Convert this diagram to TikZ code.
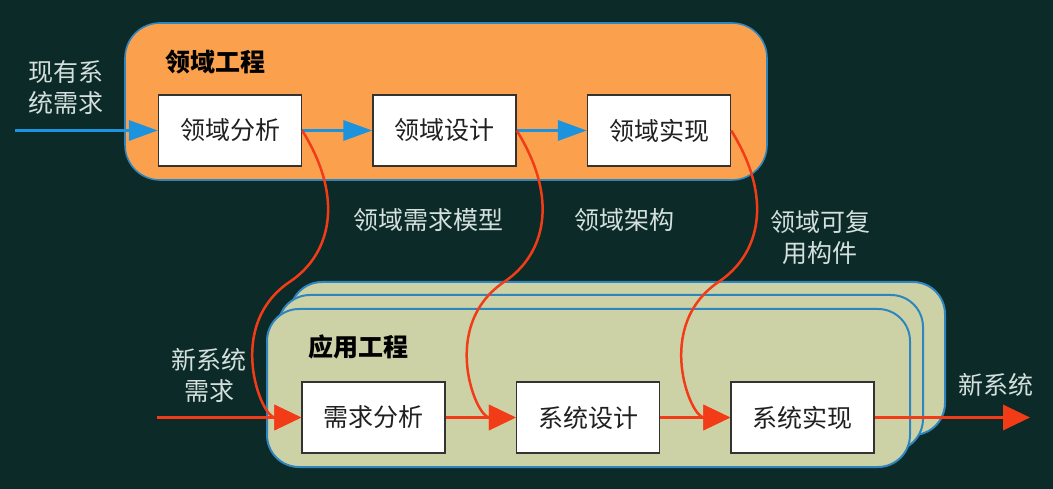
\documentclass[tikz,border=0pt]{standalone}
\usepackage{fontspec}
\setmainfont{Noto Sans CJK SC}
\usetikzlibrary{arrows.meta}

\definecolor{bg}{HTML}{0C2A28}
\definecolor{orangefill}{HTML}{FBA14E}
\definecolor{greenfill}{HTML}{CDD2A6}
\definecolor{edgeblue}{HTML}{2F86BE}
\definecolor{flowblue}{HTML}{1C93DC}
\definecolor{flowred}{HTML}{F23C18}
\definecolor{labeltext}{HTML}{D3E0DD}
\definecolor{boxtext}{HTML}{202020}

\tikzset{
  stepbox/.style={draw=black!80, line width=1.4pt, fill=white,
    minimum width=143pt, minimum height=71pt, inner sep=0pt,
    text=boxtext, font=\fontsize{25}{30}\selectfont},
  panel/.style={draw=edgeblue, line width=2pt, rounded corners=32pt, inner sep=0pt},
  caption/.style={text=labeltext, align=center, inner sep=0pt,
    font=\fontsize{25}{31}\selectfont},
  paneltitle/.style={text=black, inner sep=0pt,
    font=\fontsize{25}{30}\selectfont\bfseries},
  blueflow/.style={draw=flowblue, line width=3.5pt,
    -{Triangle[length=29pt,width=20pt]}},
  redflow/.style={draw=flowred, line width=3.5pt,
    -{Triangle[length=27pt,width=25pt]}},
  redcurve/.style={draw=flowred, line width=2.5pt,
    -{Triangle[length=27pt,width=25pt]}},
  % S-shaped hand-over curve from a domain step down to an application step
  handover/.style={redcurve},
}

\begin{document}
\begin{tikzpicture}[x=1pt,y=-1pt]
% canvas
\fill[bg] (0,0) rectangle (1053,489);
\useasboundingbox (0,0) rectangle (1053,489);

% domain engineering panel
\node[panel, fill=orangefill, rounded corners=35pt, line width=1.6pt,
      minimum width=642pt, minimum height=157pt] (domain) at (446,101.5) {};
\node[paneltitle] (domaintitle) at (215.5,62) {领域工程};

% application engineering panels, stacked
\node[panel, fill=greenfill, minimum width=655pt, minimum height=153pt] (appback) at (617.5,358.5) {};
\node[panel, fill=greenfill, minimum width=645pt, minimum height=156pt] (appmid) at (600.5,373) {};
\node[panel, fill=greenfill, minimum width=643pt, minimum height=158pt] (appfront) at (588.5,388) {};
\node[paneltitle] (apptitle) at (358,347) {应用工程};

% process steps
\node[stepbox] (d1) at (230,130.5) {领域分析};
\node[stepbox] (d2) at (444.5,130.5) {领域设计};
\node[stepbox] (d3) at (659,130.5) {领域实现};
\node[stepbox] (a1) at (373.5,417.5) {需求分析};
\node[stepbox] (a2) at (588,417.5) {系统设计};
\node[stepbox] (a3) at (802.5,417.5) {系统实现};

% captions
\node[caption] (inreq) at (65.5,88) {现有系\\统需求};
\node[caption] (lbl1) at (428,220) {领域需求模型};
\node[caption] (lbl2) at (624,220) {领域架构};
\node[caption] (lbl3) at (820,238) {领域可复\\用构件};
\node[caption] (newreq) at (209,375) {新系统\\需求};
\node[caption] (newsys) at (996,385) {新系统};

% domain flow
\coordinate (domin) at (15,130.5);
\draw[blueflow] (domin) -- (d1.west);
\draw[blueflow] (d1.east) -- (d2.west);
\draw[blueflow] (d2.east) -- (d3.west);

% application flow
\coordinate (appin) at (157,417.5);
\coordinate (appout) at (1030,417.5);
\draw[redflow] (appin) -- (a1.west);
\draw[redflow] (a1.east) -- (a2.west);
\draw[redflow] (a2.east) -- (a3.west);
\draw[redflow] (a3.east) -- (appout);

% domain assets handed to application engineering
\foreach \src/\dst in {d1/a1, d2/a2, d3/a3}
  \draw[handover] (\src.east) .. controls +(43,69) and +(40,-27) .. ++(-12,151)
    .. controls +(-66,44) and +(-40,0) .. (\dst.west);
\end{tikzpicture}
\end{document}
